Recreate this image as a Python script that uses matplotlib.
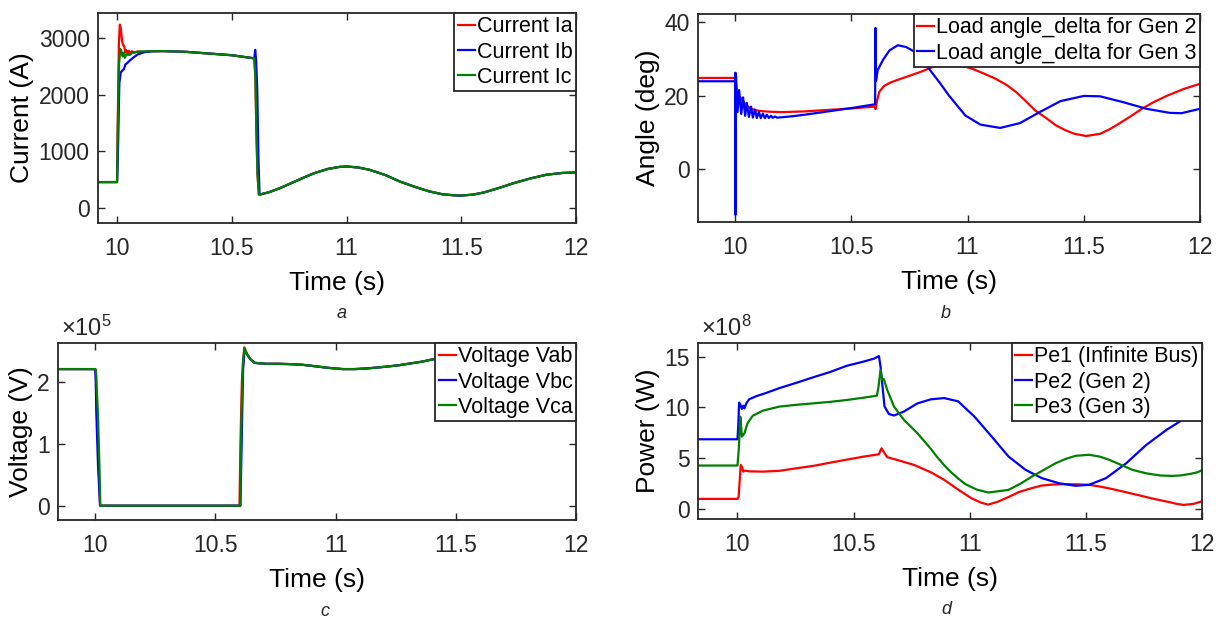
import matplotlib
matplotlib.use('Agg')
import matplotlib.pyplot as plt

plt.rcParams['font.family'] = ['Liberation Sans', 'DejaVu Sans']
plt.rcParams['mathtext.fontset'] = 'custom'
plt.rcParams['mathtext.rm'] = 'Liberation Sans'
plt.rcParams['mathtext.it'] = 'Liberation Sans:italic'

# ---------------- Panel a: currents (A) ----------------
a_pre_t = [9.917, 10.0]
a_pre_v = [457, 457]
ia_t = [10.003, 10.008, 10.012, 10.017, 10.022, 10.027, 10.031, 10.036, 10.041, 10.046,
        10.052, 10.058, 10.065, 10.075, 10.09, 10.11]
ia_v = [1500, 2900, 3235, 3150, 2940, 2870, 2860, 2740, 2785, 2720,
        2770, 2730, 2765, 2740, 2762, 2750]
ib_t = [10.004, 10.01, 10.016, 10.022, 10.03, 10.036, 10.045, 10.055, 10.07, 10.09, 10.12]
ib_v = [1000, 2200, 2390, 2420, 2450, 2530, 2560, 2600, 2650, 2710, 2750]
ic_t = [10.003, 10.008, 10.014, 10.018, 10.024, 10.029, 10.034, 10.04, 10.046, 10.054,
        10.065, 10.08, 10.1]
ic_v = [1300, 2500, 2806, 2780, 2676, 2740, 2650, 2700, 2706, 2700, 2735, 2750, 2762]
a_plat_t = [10.15, 10.2, 10.3, 10.4, 10.5, 10.598]
a_plat_v = [2765, 2768, 2755, 2725, 2695, 2640]
iac_fall_t = [10.603, 10.607, 10.612, 10.618]
iac_fall_v = [2300, 1400, 600, 240]
ib_fall_t = [10.602, 10.606, 10.611, 10.616, 10.621]
ib_fall_v = [2790, 2600, 2088, 900, 240]
a_tail_t = [10.625, 10.66, 10.71, 10.76, 10.81, 10.86, 10.92, 10.97, 11.0, 11.05, 11.10,
            11.17, 11.23, 11.30, 11.36, 11.42, 11.49, 11.55, 11.60, 11.67, 11.73, 11.80,
            11.87, 11.94, 12.0]
a_tail_v = [240, 275, 350, 440, 530, 615, 690, 725, 732, 715, 674,
            580, 470, 370, 293, 240, 217, 235, 275, 360, 440, 520,
            586, 618, 627]

# ---------------- Panel b: load angles (deg) ----------------
g2_t = [9.835, 10.0, 10.002, 10.006, 10.012, 10.018, 10.024, 10.03, 10.036, 10.042, 10.05,
        10.06, 10.075, 10.09, 10.11, 10.15, 10.2, 10.3, 10.4, 10.5, 10.6, 10.604, 10.61,
        10.62, 10.64, 10.67, 10.7, 10.75, 10.8, 10.85, 10.9, 10.95, 11.02, 11.07, 11.12,
        11.17, 11.21, 11.25, 11.29, 11.34, 11.38, 11.42, 11.46, 11.51, 11.57, 11.61, 11.65,
        11.70, 11.75, 11.80, 11.86, 11.93, 12.0]
g2_v = [24.8, 24.8, 24.0, 22.0, 20.5, 19.8, 19.4, 18.8, 18.3, 17.8, 17.3,
        16.8, 16.3, 16.0, 15.8, 15.6, 15.5, 15.7, 16.1, 16.5, 17.0, 16.3, 18.5,
        21.0, 22.6, 23.6, 24.3, 25.4, 26.5, 27.8, 28.6, 28.6, 27.3, 26.0, 24.6,
        22.8, 20.9, 18.5, 16.0, 13.8, 11.9, 10.6, 9.6, 9.0, 9.6, 10.8, 12.3,
        14.3, 16.4, 18.2, 20.0, 21.8, 23.2]
g3_t = [9.835, 10.0, 10.0005, 10.001, 10.003, 10.010, 10.017, 10.026, 10.034, 10.043,
        10.05, 10.059, 10.068, 10.076, 10.085, 10.093, 10.102, 10.11, 10.119, 10.128,
        10.136, 10.145, 10.154, 10.162, 10.171, 10.18, 10.2, 10.25, 10.3, 10.4, 10.5,
        10.598, 10.602, 10.604, 10.606, 10.613, 10.635, 10.664, 10.70, 10.736, 10.772,
        10.80, 10.834, 10.88, 10.92, 10.99, 11.055, 11.14, 11.225, 11.31, 11.40, 11.50,
        11.57, 11.67, 11.77, 11.87, 11.92, 12.0]
g3_v = [23.9, 23.9, 26.2, -12.5, 26.0, 15.5, 21.5, 15.0, 19.5, 14.5,
        18.0, 14.2, 17.0, 14.0, 16.2, 13.9, 15.6, 13.85, 15.1, 13.85,
        14.8, 13.9, 14.5, 13.95, 14.3, 14.0, 14.1, 14.4, 14.8, 15.7, 16.6,
        17.6, 17.6, 38.4, 24.0, 26.9, 29.6, 32.3, 33.7, 33.2, 31.9,
        30.3, 27.3, 23.5, 20.0, 14.6, 12.1, 11.2, 12.5, 15.5, 18.5, 19.9,
        19.8, 18.2, 16.4, 15.3, 15.2, 16.4]

# ---------------- Panel c: voltages (x1e5 V) ----------------
c_pre_t = [9.845, 10.0]
c_pre_v = [2.2, 2.2]
vab_drop_t = [10.003, 10.004, 10.01, 10.015, 10.02]
vab_drop_v = [2.1, 1.6, 1.2, 0.6, 0.0]
vbc_drop_t = [10.002, 10.006, 10.012, 10.02]
vbc_drop_v = [2.0, 1.3, 0.6, 0.0]
vca_drop_t = [10.003, 10.011, 10.017, 10.021]
vca_drop_v = [2.17, 1.49, 0.68, 0.0]
vab_rise_t = [10.6, 10.604, 10.61, 10.62]
vab_rise_v = [0.0, 1.0, 2.0, 2.55]
vbc_rise_t = [10.604, 10.609, 10.615, 10.621]
vbc_rise_v = [0.0, 1.0, 2.2, 2.5]
vca_rise_t = [10.603, 10.607, 10.614, 10.621]
vca_rise_v = [0.0, 1.2, 2.3, 2.54]
c_tail_t = [10.63, 10.645, 10.663, 10.71, 10.76, 10.81, 10.86, 10.905, 10.97, 11.03, 11.08,
            11.13, 11.2, 11.26, 11.31, 11.36, 11.42, 11.5, 11.6, 11.7, 11.8, 11.9, 12.0]
c_tail_v = [2.45, 2.36, 2.30, 2.285, 2.285, 2.28, 2.27, 2.25, 2.22, 2.2, 2.2,
            2.21, 2.235, 2.26, 2.29, 2.32, 2.37, 2.42, 2.47, 2.5, 2.52, 2.52, 2.5]

# ---------------- Panel d: powers (x1e8 W) ----------------
pe1_t = [9.83, 10.0, 10.005, 10.01, 10.014, 10.02, 10.025, 10.032, 10.05, 10.109, 10.18,
         10.254, 10.33, 10.4, 10.47, 10.543, 10.609, 10.62, 10.63, 10.645, 10.688, 10.76,
         10.833, 10.89, 10.95, 11.007, 11.05, 11.08, 11.123, 11.17, 11.21, 11.26, 11.31,
         11.36, 11.413, 11.46, 11.514, 11.56, 11.616, 11.67, 11.732, 11.79, 11.848, 11.89,
         11.92, 11.964, 12.0]
pe1_v = [0.98, 0.98, 1.2, 3.0, 4.33, 4.1, 3.67, 3.77, 3.7, 3.67, 3.75,
         4.0, 4.25, 4.56, 4.85, 5.15, 5.38, 5.97, 5.6, 5.09, 4.82, 4.33,
         3.6, 2.86, 1.9, 1.05, 0.6, 0.42, 0.72, 1.2, 1.64, 2.0, 2.3,
         2.4, 2.43, 2.42, 2.37, 2.2, 1.94, 1.65, 1.32, 1.0, 0.72, 0.5,
         0.39, 0.49, 0.75]
pe2_t = [9.83, 10.0, 10.004, 10.007, 10.012, 10.019, 10.025, 10.03, 10.038, 10.05, 10.08,
         10.12, 10.18, 10.25, 10.33, 10.4, 10.47, 10.54, 10.587, 10.609, 10.616, 10.623,
         10.633, 10.652, 10.674, 10.717, 10.775, 10.833, 10.89, 10.95, 11.02, 11.094,
         11.167, 11.24, 11.31, 11.384, 11.456, 11.514, 11.587, 11.674, 11.76, 11.848,
         11.89, 11.95, 12.0]
pe2_v = [6.86, 6.86, 8.5, 10.47, 10.3, 9.85, 10.17, 9.9, 10.4, 10.8, 11.1,
         11.4, 11.9, 12.4, 13.0, 13.5, 14.1, 14.5, 14.8, 15.06, 14.0, 12.4,
         10.1, 9.35, 9.2, 9.6, 10.4, 10.8, 10.92, 10.6, 9.1, 7.14,
         5.16, 3.85, 3.03, 2.53, 2.27, 2.37, 3.03, 4.5, 6.3, 7.8,
         8.4, 9.3, 10.0]
pe3_t = [9.83, 10.0, 10.006, 10.012, 10.016, 10.019, 10.025, 10.03, 10.043, 10.065, 10.109,
         10.18, 10.25, 10.326, 10.4, 10.47, 10.54, 10.60, 10.607, 10.616, 10.623, 10.63,
         10.645, 10.674, 10.717, 10.775, 10.833, 10.86, 10.89, 10.92, 10.95, 10.98, 11.03,
         11.08, 11.167, 11.22, 11.268, 11.32, 11.37, 11.41, 11.456, 11.514, 11.56, 11.6,
         11.65, 11.70, 11.76, 11.82, 11.87, 11.906, 11.95, 11.978, 12.0]
pe3_v = [4.27, 4.27, 6.0, 9.09, 8.0, 7.12, 7.3, 7.45, 8.43, 9.16, 9.68,
         10.08, 10.25, 10.4, 10.55, 10.73, 10.95, 11.16, 12.0, 13.7, 12.7, 12.8,
         11.7, 10.08, 8.76, 7.45, 5.9, 5.1, 4.3, 3.6, 3.0, 2.45, 1.9,
         1.61, 1.87, 2.5, 3.19, 3.85, 4.5, 4.9, 5.23, 5.33, 5.15, 4.84,
         4.35, 3.85, 3.5, 3.29, 3.25, 3.29, 3.45, 3.59, 3.8]

xticks = [10, 10.5, 11, 11.5, 12]
xticklabels = ['10', '10.5', '11', '11.5', '12']

RED, BLUE, GREEN = '#ff0000', '#0000ff', '#008000'
DARK = '#262626'
LW = 1.6

fig = plt.figure(figsize=(12.2, 6.21), dpi=100)
W, H = 1220, 621


def make_ax(l, r, t, b):
    return fig.add_axes([l / W, 1 - b / H, (r - l) / W, (b - t) / H])


def style(ax, xlim, ylim, yticks, yticklabels, ylabel):
    ax.set_xlim(*xlim)
    ax.set_ylim(*ylim)
    ax.set_xticks(xticks)
    ax.set_xticklabels(xticklabels)
    ax.set_yticks(yticks)
    ax.set_yticklabels(yticklabels)
    ax.tick_params(direction='in', length=5, width=1.0, top=True, right=True,
                   labelsize=16.5, colors=DARK)
    ax.tick_params(axis='x', pad=10)
    ax.tick_params(axis='y', pad=6)
    for s in ax.spines.values():
        s.set_color(DARK)
        s.set_linewidth(1.3)
    ax.set_xlabel('Time (s)', fontsize=19, color='black', labelpad=8)
    ax.set_ylabel(ylabel, fontsize=19, color='black', labelpad=3)


def legend(ax):
    lg = ax.legend(loc='upper right', borderaxespad=0, fontsize=15.5, handlelength=0.8,
                   handletextpad=0.1, borderpad=0.15, labelspacing=0.2, fancybox=False,
                   framealpha=1, edgecolor=DARK)
    lg.get_frame().set_linewidth(1.3)
    return lg


# Panel a
ax = make_ax(98, 576, 13, 223)
ax.plot(a_pre_t + ia_t + a_plat_t + iac_fall_t + a_tail_t,
        a_pre_v + ia_v + a_plat_v + iac_fall_v + a_tail_v, color=RED, lw=LW, label='Current Ia')
ax.plot(a_pre_t + ib_t + a_plat_t + ib_fall_t + a_tail_t,
        a_pre_v + ib_v + a_plat_v + ib_fall_v + a_tail_v, color=BLUE, lw=LW, label='Current Ib')
ax.plot(a_pre_t + ic_t + a_plat_t + iac_fall_t + a_tail_t,
        a_pre_v + ic_v + a_plat_v + iac_fall_v + a_tail_v, color=GREEN, lw=LW, label='Current Ic')
style(ax, (9.917, 12.0), (-265, 3440), [0, 1000, 2000, 3000], ['0', '1000', '2000', '3000'],
      'Current (A)')
legend(ax)

# Panel b
ax = make_ax(698, 1200, 14, 222)
ax.plot(g2_t, g2_v, color=RED, lw=LW, label='Load angle_delta for Gen 2')
ax.plot(g3_t, g3_v, color=BLUE, lw=LW, label='Load angle_delta for Gen 3')
style(ax, (9.84, 12.0), (-14.4, 42.2), [0, 20, 40], ['0', '20', '40'], 'Angle (deg)')
legend(ax)

# Panel c
ax = make_ax(58, 576, 343, 520)
ax.plot(c_pre_t + vab_drop_t + vab_rise_t + c_tail_t,
        c_pre_v + vab_drop_v + vab_rise_v + c_tail_v, color=RED, lw=LW, label='Voltage Vab')
ax.plot(c_pre_t + vbc_drop_t + vbc_rise_t + c_tail_t,
        c_pre_v + vbc_drop_v + vbc_rise_v + c_tail_v, color=BLUE, lw=LW, label='Voltage Vbc')
ax.plot(c_pre_t + vca_drop_t + vca_rise_t + c_tail_t,
        c_pre_v + vca_drop_v + vca_rise_v + c_tail_v, color=GREEN, lw=LW, label='Voltage Vca')
style(ax, (9.845, 12.0), (-0.23, 2.62), [0, 1, 2], ['0', '1', '2'], 'Voltage (V)')
legend(ax)
ax.text(0.005, 1.012, r'$\times10^{5}$', transform=ax.transAxes, fontsize=17, color=DARK,
        ha='left', va='bottom')

# Panel d
ax = make_ax(698, 1202, 343, 519)
ax.plot(pe1_t, pe1_v, color=RED, lw=LW, label='Pe1 (Infinite Bus)')
ax.plot(pe2_t, pe2_v, color=BLUE, lw=LW, label='Pe2 (Gen 2)')
ax.plot(pe3_t, pe3_v, color=GREEN, lw=LW, label='Pe3 (Gen 3)')
style(ax, (9.83, 12.0), (-1.0, 16.35), [0, 5, 10, 15], ['0', '5', '10', '15'], 'Power (W)')
legend(ax)
ax.text(0.005, 1.012, r'$\times10^{8}$', transform=ax.transAxes, fontsize=17, color=DARK,
        ha='left', va='bottom')

# captions
for txt, x, y in [('a', 342, 313), ('b', 946, 313), ('c', 325, 612), ('d', 946, 609)]:
    fig.text(x / W, 1 - y / H, txt, fontsize=13, style='italic', color=DARK,
             ha='center', va='center')

fig.savefig('out.png', dpi=100, facecolor='white')
